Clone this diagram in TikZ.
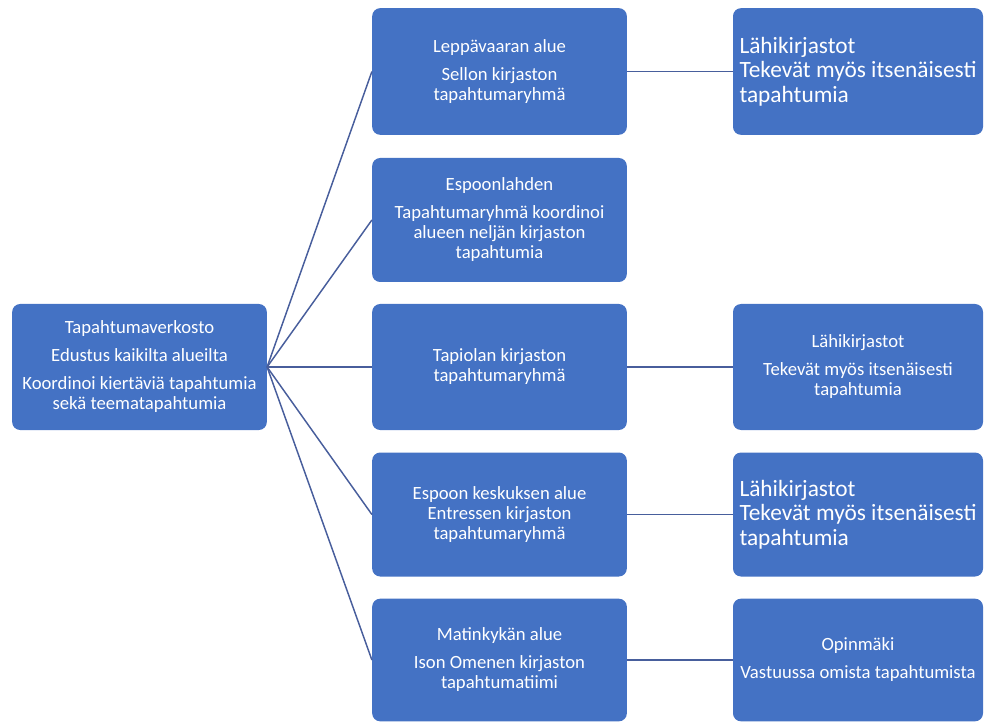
\documentclass[tikz,border=0pt]{standalone}
\usepackage{fontspec}
\setmainfont{Carlito}
\usetikzlibrary{positioning}
\definecolor{boxBlue}{RGB}{68,114,196}
\definecolor{linkBlue}{RGB}{72,94,156}
\tikzset{
    orgBox/.style={rectangle, rounded corners=6pt, fill=boxBlue, text=white, align=center, minimum width=191pt, minimum height=93pt, inner sep=2pt, font=\fontsize{14}{15}\selectfont},
    orgBig/.style={orgBox, align=left, minimum width=187.5pt, font=\fontsize{17.5}{18.5}\selectfont},
    orgLink/.style={draw=linkBlue, line width=1.1pt},
}
\newcommand{\drawLink}[2]{
    \draw[orgLink] (#1.east) -- (#2.west);
}

\begin{document}
\begin{tikzpicture}[x=0.75pt, y=-0.75pt]
        \useasboundingbox (0, 0) rectangle (985, 723);

        \node[orgBox, minimum height=94.5pt] (net) at (139.5, 367) {Tapahtumaverkosto\\[6pt]Edustus kaikilta alueilta\\[6pt]Koordinoi kiertäviä tapahtumia\\sekä teematapahtumia};

        \node[orgBox, minimum height=95pt] (lepp) at (499.5, 71.5) {Leppävaaran alue\\[6pt]Sellon kirjaston\\tapahtumaryhmä};
        \node[orgBox] (espl) at (499.5, 220) {Espoonlahden\\[6pt]Tapahtumaryhmä koordinoi\\alueen neljän kirjaston\\tapahtumia};
        \node[orgBox, minimum height=94.5pt] (tapi) at (499.5, 367) {Tapiolan kirjaston\\tapahtumaryhmä};
        \node[orgBox] (kesk) at (499.5, 514.5) {Espoon keskuksen alue\\Entressen kirjaston\\tapahtumaryhmä};
        \node[orgBox, minimum height=92pt] (mati) at (499.5, 660) {Matinkykän alue\\[6pt]Ison Omenen kirjaston\\tapahtumatiimi};

        \node[orgBig, minimum height=95pt] (lahi1) at (858, 71.5) {Lähikirjastot\\Tekevät myös itsenäisesti\\tapahtumia};
        \node[orgBox, minimum width=187.5pt, minimum height=94.5pt] (lahi2) at (858, 367) {Lähikirjastot\\[6pt]Tekevät myös itsenäisesti\\tapahtumia};
        \node[orgBig] (lahi3) at (858, 514.5) {Lähikirjastot\\Tekevät myös itsenäisesti\\tapahtumia};
        \node[orgBox, minimum width=187.5pt, minimum height=92pt] (opin) at (858, 660) {Opinmäki\\[6pt]Vastuussa omista tapahtumista};

        \drawLink{net}{lepp}
        \drawLink{net}{espl}
        \drawLink{net}{tapi}
        \drawLink{net}{kesk}
        \drawLink{net}{mati}
        \drawLink{lepp}{lahi1}
        \drawLink{tapi}{lahi2}
        \drawLink{kesk}{lahi3}
        \drawLink{mati}{opin}

    \end{tikzpicture}
\end{document}
